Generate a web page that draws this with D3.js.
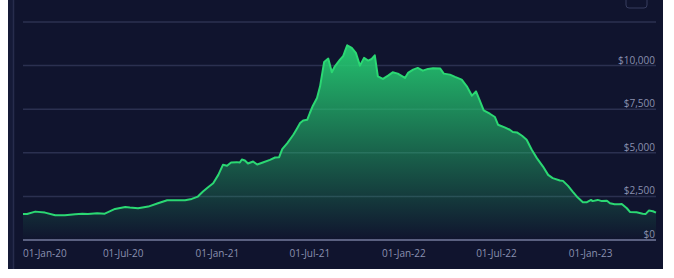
<!DOCTYPE html>
<html>
<head>
<meta charset="utf-8">
<script src="https://cdn.jsdelivr.net/npm/d3@7"></script>
<style>
  html, body { margin: 0; padding: 0; background: #fff; }
  svg { display: block; font-family: "Open Sans", sans-serif; }
</style>
</head>
<body>
<svg id="chart" width="674" height="278"></svg>
<script>
// values
const dates = [
  "2019-12-18","2019-12-26","2020-01-11","2020-01-30","2020-02-19","2020-03-09","2020-03-29","2020-04-12",
  "2020-04-23","2020-05-11","2020-05-26","2020-06-15","2020-07-05","2020-07-14","2020-07-30","2020-08-19",
  "2020-09-07","2020-09-25","2020-10-11","2020-10-30","2020-11-12","2020-11-24","2020-12-04","2020-12-14",
  "2020-12-24","2021-01-03","2021-01-12","2021-01-20","2021-01-28","2021-02-08","2021-02-14","2021-02-18",
  "2021-02-24","2021-03-02","2021-03-12","2021-03-20","2021-03-31","2021-04-14","2021-04-24","2021-05-02",
  "2021-05-08","2021-05-18","2021-05-30","2021-06-06","2021-06-12","2021-06-18","2021-06-26","2021-07-01",
  "2021-07-07","2021-07-15","2021-07-21","2021-07-29","2021-08-06","2021-08-13","2021-08-19","2021-08-29",
  "2021-09-04","2021-09-12","2021-09-21","2021-09-29","2021-10-07","2021-10-15","2021-10-23","2021-10-30",
  "2021-11-05","2021-11-11","2021-11-21","2021-12-01","2021-12-10","2021-12-20","2022-01-03","2022-01-09",
  "2022-01-19","2022-01-28","2022-02-07","2022-02-17","2022-02-27","2022-03-13","2022-03-20","2022-04-01",
  "2022-04-11","2022-04-24","2022-05-04","2022-05-14","2022-05-22","2022-05-30","2022-06-06","2022-06-18",
  "2022-06-28","2022-07-04","2022-07-17","2022-07-27","2022-08-02","2022-08-10","2022-08-20","2022-08-29",
  "2022-09-08","2022-09-18","2022-09-30","2022-10-10","2022-10-19","2022-11-02","2022-11-08","2022-11-18",
  "2022-11-27","2022-12-07","2022-12-17","2022-12-25","2023-01-02","2023-01-05","2023-01-15","2023-01-23",
  "2023-02-02","2023-02-08","2023-02-17","2023-02-26","2023-03-03","2023-03-13","2023-03-19","2023-04-01",
  "2023-04-13","2023-04-19","2023-04-25","2023-05-03","2023-05-09"
];
const prices = [
  1494, 1494, 1627, 1570, 1420, 1420, 1477, 1510,
  1494, 1533, 1510, 1782, 1897, 1860, 1820, 1916,
  2108, 2280, 2280, 2280, 2356, 2490, 2776, 3028,
  3258, 3735, 4310, 4252, 4442, 4465, 4440, 4615,
  4557, 4385, 4500, 4327, 4442, 4598, 4730, 4750,
  5212, 5557, 6050, 6400, 6706, 6857, 6900, 7282,
  7701, 8143, 8810, 10212, 10402, 9615, 9960, 10345,
  10534, 11166, 11017, 10730, 10000, 10442, 10287, 10380,
  10592, 9385, 9235, 9425, 9615, 9540, 9293, 9580,
  9770, 9867, 9712, 9810, 9845, 9827, 9540, 9483,
  9350, 9195, 8810, 8276, 8523, 7948, 7431, 7241,
  7052, 6609, 6454, 6322, 6190, 6167, 5977, 5747,
  5172, 4695, 4212, 3735, 3546, 3408, 3390, 3103,
  2776, 2431, 2167, 2167, 2299, 2230, 2299, 2230,
  2250, 2108, 2052, 2052, 2069, 1820, 1609, 1590,
  1510, 1494, 1686, 1650, 1570
];
const yTicks = [0, 2500, 5000, 7500, 10000, 12500];
const xTickLabels = ["2020-01-01","2020-07-01","2021-01-01","2021-07-01","2022-01-01","2022-07-01","2023-01-01"];

const parse = d3.timeParse("%Y-%m-%d");
const data = dates.map((d, i) => ({date: parse(d), value: prices[i]}));

const svg = d3.select("#chart");
const plotLeft = 23, plotRight = 656, plotTop = 22, plotBottom = 240;

const x = d3.scaleTime()
    .domain(d3.extent(data, d => d.date))
    .range([plotLeft, plotRight]);
const y = d3.scaleLinear()
    .domain([0, 12500])
    .range([plotBottom, plotTop]);

// panel
svg.append("rect")
    .attr("x", 8).attr("y", 0).attr("width", 655).attr("height", 269)
    .attr("fill", "#10142e");
svg.append("rect")
    .attr("x", 8).attr("y", 0).attr("width", 5).attr("height", 269)
    .attr("fill", "#151a37");
svg.append("line")
    .attr("x1", 13.5).attr("x2", 13.5).attr("y1", 0).attr("y2", 269)
    .attr("stroke", "#272c4c").attr("stroke-width", 1.5);

// little button outline top right
svg.append("rect")
    .attr("x", 626).attr("y", -4).attr("width", 21).attr("height", 12).attr("rx", 3)
    .attr("fill", "none").attr("stroke", "#363c5e").attr("stroke-width", 1);

// grid
svg.append("g")
  .selectAll("line")
  .data(yTicks)
  .join("line")
    .attr("x1", plotLeft).attr("x2", plotRight)
    .attr("y1", d => y(d)).attr("y2", d => y(d))
    .attr("stroke", d => d === 0 ? "#5a6080" : "#2b3050")
    .attr("stroke-width", d => d === 0 ? 2 : 1.5);

// area + line
const grad = svg.append("defs").append("linearGradient")
    .attr("id", "fillGrad")
    .attr("gradientUnits", "userSpaceOnUse")
    .attr("x1", 0).attr("x2", 0)
    .attr("y1", y(d3.max(prices))).attr("y2", plotBottom);
grad.append("stop").attr("offset", "0%").attr("stop-color", "#25cc72").attr("stop-opacity", 0.95);
grad.append("stop").attr("offset", "100%").attr("stop-color", "#25cc72").attr("stop-opacity", 0);

svg.append("path")
    .datum(data)
    .attr("fill", "url(#fillGrad)")
    .attr("d", d3.area()
      .x(d => x(d.date))
      .y0(plotBottom)
      .y1(d => y(d.value)));

svg.append("path")
    .datum(data)
    .attr("fill", "none")
    .attr("stroke", "#2bd873")
    .attr("stroke-width", 2)
    .attr("stroke-linejoin", "round")
    .attr("d", d3.line()
      .x(d => x(d.date))
      .y(d => y(d.value)));

// y labels
const fmt = d3.format("$,");
svg.append("g")
  .selectAll("text")
  .data(yTicks.filter(d => d < 12500))
  .join("text")
    .attr("x", plotRight - 1)
    .attr("y", d => y(d) - 2)
    .attr("text-anchor", "end")
    .attr("font-size", 10)
    .attr("fill", "#8a90ae")
    .text(d => fmt(d));

// x labels, centred on the tick but kept inside the plot
const tf = d3.timeFormat("%d-%b-%y");
svg.append("g")
  .selectAll("text")
  .data(xTickLabels.map(parse))
  .join("text")
    .attr("y", 257)
    .attr("font-size", 10)
    .attr("fill", "#8a90ae")
    .text(d => tf(d))
    .each(function(d) {
      const w = this.getComputedTextLength();
      let x0 = x(d) - w / 2;
      x0 = Math.max(plotLeft, Math.min(plotRight - w, x0));
      d3.select(this).attr("x", x0);
    });
</script>
</body>
</html>
